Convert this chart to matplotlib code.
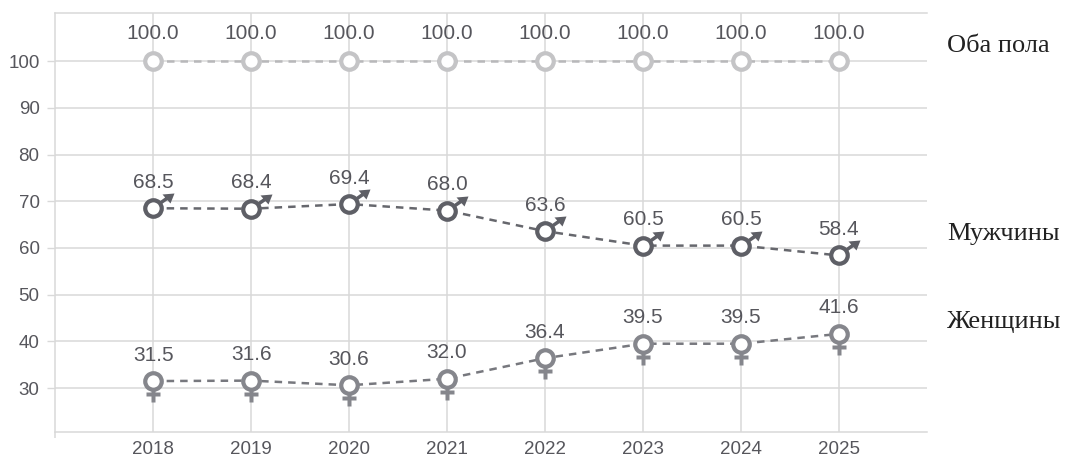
import numpy as np
import matplotlib
matplotlib.use('Agg')
import matplotlib.pyplot as plt
from matplotlib.path import Path

years = [2018, 2019, 2020, 2021, 2022, 2023, 2024, 2025]
both = [100.0, 100.0, 100.0, 100.0, 100.0, 100.0, 100.0, 100.0]
men = [68.5, 68.4, 69.4, 68.0, 63.6, 60.5, 60.5, 58.4]
women = [31.5, 31.6, 30.6, 32.0, 36.4, 39.5, 39.5, 41.6]
y_ticks = [30, 40, 50, 60, 70, 80, 90, 100]
names = ['Оба пола', 'Мужчины', 'Женщины']

GRID = '#d9d9d9'
TEXT = '#56565c'
W, H = 1066, 457
X_LEFT = 2016.993


def px(v):
    # пиксели в пункты
    return v * 0.72


# значки пола
male_path = Path(
    [(-1, -2), (15, 9), (13, 12), (-1, 2), (-1, -2),
     (21, 15), (9, 14), (17, 5), (21, 15)],
    [Path.MOVETO, Path.LINETO, Path.LINETO, Path.LINETO, Path.CLOSEPOLY,
     Path.MOVETO, Path.LINETO, Path.LINETO, Path.CLOSEPOLY])
female_path = Path(
    [(-2, 0), (2, 0), (2, -11), (7, -11), (7, -15), (2, -15), (2, -21),
     (-2, -21), (-2, -15), (-7, -15), (-7, -11), (-2, -11), (-2, 0)],
    [Path.MOVETO] + [Path.LINETO] * 11 + [Path.CLOSEPOLY])

plt.rcParams['font.family'] = ['Liberation Sans', 'DejaVu Sans']
fig = plt.figure(figsize=(W / 100, H / 100), dpi=100)
ax = fig.add_axes([54.5 / W, 1 - 432 / H, (927 - 54.5) / W, (432 - 13) / H])
ax.set_xlim(X_LEFT, 2025.9)
ax.set_ylim(20.6, 110.3)

ax.grid(True, color=GRID, linewidth=1.1)
ax.set_axisbelow(True)
ax.spines['right'].set_visible(False)
for side in ['left', 'bottom', 'top']:
    ax.spines[side].set_color(GRID)
    ax.spines[side].set_linewidth(1.1)

ax.set_xticks(years)
ax.set_yticks(y_ticks)
ax.tick_params(axis='x', length=0, labelsize=13.5, labelcolor=TEXT, pad=6.5)
ax.tick_params(axis='y', length=px(8), width=1, color=GRID, labelsize=13.5, labelcolor=TEXT, pad=5)
ax.set_xticks([X_LEFT], minor=True)
ax.tick_params(axis='x', which='minor', length=px(6), width=1.1, color=GRID)

series = [
    (both, '#c4c4c6', '#b8b8ba', None, 28),
    (men, '#5e5f66', '#66676d', male_path, 26),
    (women, '#85868c', '#77787e', female_path, 26),
]
for values, edge, line, symbol, shift in series:
    ax.plot(years, values, linestyle=(0, (3, 2.4)), color=line, linewidth=1.8, zorder=3)
    if symbol is not None:
        ax.plot(years, values, linestyle='none', marker=symbol, markersize=px(42),
                markerfacecolor=edge, markeredgecolor='none', zorder=4)
    ax.plot(years, values, linestyle='none', marker='o', markersize=px(16.5),
            markerfacecolor='white', markeredgecolor=edge, markeredgewidth=px(4.2), zorder=5)
    for x, y in zip(years, values):
        ax.annotate('%.1f' % y, (x, y), xytext=(0, px(shift)), textcoords='offset points',
                    ha='center', va='center', fontsize=15, color=TEXT, zorder=6)

for name, y_pos in zip(names, [46, 234, 322]):
    fig.text(947 / W, 1 - y_pos / H, name, family=['Liberation Serif', 'DejaVu Serif'],
             fontsize=19, color='#222222', ha='left', va='center')

fig.savefig('out.png', dpi=100)
